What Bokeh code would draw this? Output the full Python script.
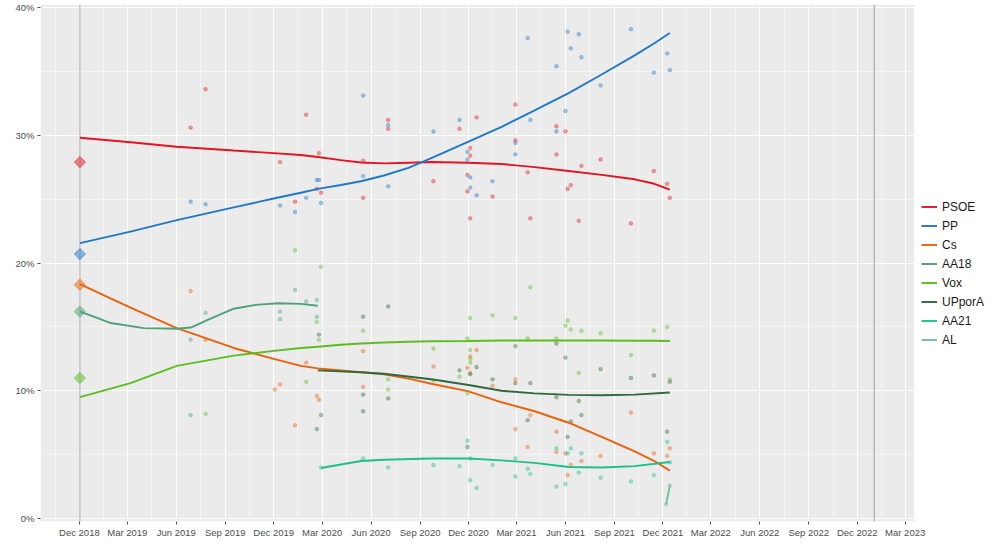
import math
import pandas as pd
from bokeh.plotting import figure
from bokeh.models import (Range1d, FixedTicker, DatetimeTickFormatter, PrintfTickFormatter,
                          Span, Legend, LegendItem, ColumnDataSource, BoxAnnotation)
from bokeh.embed import file_html
from bokeh.resources import INLINE

FONT = "Liberation Sans"

parties = ["PSOE", "PP", "Cs", "AA18", "Vox", "UPporA", "AA21", "AL"]
party_colors = ["#E5131F", "#1F78C8", "#EB6109", "#4CA27A", "#5CBE1E", "#2E6A3C", "#1FC088", "#70C09E"]

# Election result (2 Dec 2018)
election_date = "2018-12-02"
election_parties = ["PSOE", "PP", "Cs", "AA18", "Vox"]
election_values = [27.9, 20.7, 18.3, 16.2, 11.0]
term_end_date = "2023-01-02"

x_tick_labels = ["Dec 2018", "Mar 2019", "Jun 2019", "Sep 2019", "Dec 2019", "Mar 2020",
                 "Jun 2020", "Sep 2020", "Dec 2020", "Mar 2021", "Jun 2021", "Sep 2021",
                 "Dec 2021", "Mar 2022", "Jun 2022", "Sep 2022", "Dec 2022", "Mar 2023"]
y_ticks = [0, 10, 20, 30, 40]

# ---- poll points ----
psoe_dates = ["2019-06-28", "2019-07-26", "2019-12-13", "2020-01-10", "2020-01-31", "2020-02-20",
              "2020-02-24", "2020-02-28", "2020-05-17", "2020-05-17", "2020-07-03", "2020-07-03",
              "2020-09-26", "2020-11-14", "2020-11-29", "2020-11-29", "2020-12-04", "2020-12-04",
              "2020-12-04", "2020-12-16", "2021-01-15", "2021-02-27", "2021-02-27", "2021-03-22",
              "2021-03-27", "2021-05-15", "2021-05-15", "2021-06-01", "2021-06-05", "2021-06-11",
              "2021-06-26", "2021-07-01", "2021-08-06", "2021-10-02", "2021-11-14", "2021-12-09",
              "2021-12-14"]
psoe_values = [30.6, 33.6, 27.9, 24.8, 31.6, 25.8, 28.6, 25.5, 28.0, 25.1, 31.2, 30.5,
               26.4, 30.5, 26.9, 25.6, 29.0, 28.4, 23.5, 31.4, 25.2, 32.4, 29.6, 27.1,
               23.5, 30.7, 28.5, 30.3, 25.8, 26.1, 23.3, 27.6, 28.1, 23.1, 27.2, 26.2, 25.1]

pp_dates = ["2019-06-28", "2019-07-26", "2019-12-13", "2020-01-10", "2020-01-31", "2020-02-20",
            "2020-02-24", "2020-02-28", "2020-05-17", "2020-05-17", "2020-07-03", "2020-07-03",
            "2020-09-26", "2020-11-14", "2020-11-29", "2020-11-29", "2020-12-04", "2020-12-04",
            "2020-12-16", "2021-01-15", "2021-02-27", "2021-02-27", "2021-03-22", "2021-03-27",
            "2021-05-15", "2021-05-15", "2021-06-01", "2021-06-05", "2021-06-11", "2021-06-26",
            "2021-07-01", "2021-08-06", "2021-10-02", "2021-11-14", "2021-12-09", "2021-12-14"]
pp_values = [24.8, 24.6, 24.5, 24.0, 25.1, 26.5, 26.5, 24.7, 33.1, 26.8, 30.8, 26.0,
             30.3, 31.2, 28.7, 28.1, 26.7, 25.9, 25.3, 26.4, 29.4, 28.5, 37.6, 31.2,
             35.4, 30.3, 31.9, 38.1, 36.8, 37.9, 36.1, 33.9, 38.3, 34.9, 36.4, 35.1]

cs_dates = ["2019-06-28", "2019-07-26", "2019-12-03", "2019-12-13", "2020-01-10", "2020-01-31",
            "2020-02-20", "2020-02-24", "2020-05-17", "2020-05-17", "2020-09-26", "2020-11-29",
            "2020-12-04", "2020-12-04", "2020-12-16", "2021-01-15", "2021-02-27", "2021-02-27",
            "2021-03-22", "2021-03-27", "2021-05-15", "2021-05-15", "2021-06-01", "2021-06-05",
            "2021-06-11", "2021-07-01", "2021-08-06", "2021-10-02", "2021-11-14", "2021-12-09",
            "2021-12-14"]
cs_values = [17.8, 14.0, 10.1, 10.5, 7.3, 12.2, 9.6, 9.3, 13.1, 10.3, 11.9, 11.8,
             12.7, 11.4, 13.2, 10.4, 10.9, 7.0, 5.6, 8.1, 6.8, 5.2, 5.1, 3.4,
             4.2, 4.5, 4.9, 8.3, 5.1, 4.9, 5.5]

aa18_dates = ["2019-06-28", "2019-06-28", "2019-07-26", "2019-12-13", "2019-12-13", "2020-01-10",
              "2020-01-31", "2020-02-20", "2020-02-20"]
aa18_values = [14.0, 8.1, 16.1, 16.2, 15.6, 17.9, 17.0, 17.1, 15.8]

vox_dates = ["2019-07-26", "2020-01-10", "2020-01-31", "2020-02-20", "2020-02-24", "2020-02-28",
             "2020-05-17", "2020-07-03", "2020-07-03", "2020-09-26", "2020-09-26", "2020-11-14",
             "2020-11-29", "2020-11-29", "2020-12-04", "2020-12-04", "2020-12-04", "2020-12-04",
             "2021-01-15", "2021-02-27", "2021-03-22", "2021-03-27", "2021-05-15", "2021-06-01",
             "2021-06-05", "2021-06-11", "2021-06-26", "2021-07-01", "2021-08-06", "2021-10-02",
             "2021-11-14", "2021-12-09", "2021-12-14"]
vox_values = [8.2, 21.0, 10.7, 15.4, 14.0, 19.7, 14.7, 10.9, 10.1, 13.3, 10.8, 11.1,
              14.1, 9.8, 15.7, 13.2, 12.5, 12.2, 15.9, 15.7, 14.1, 18.1, 14.1, 15.1,
              15.5, 14.8, 11.4, 14.7, 14.5, 12.8, 14.7, 15.0, 10.9]

upa_dates = ["2020-02-20", "2020-02-24", "2020-02-28", "2020-05-17", "2020-05-17", "2020-05-17",
             "2020-07-03", "2020-07-03", "2020-11-14", "2020-11-29", "2020-12-04", "2020-12-16",
             "2021-01-15", "2021-02-27", "2021-02-27", "2021-03-22", "2021-03-27", "2021-05-15",
             "2021-05-15", "2021-06-01", "2021-06-05", "2021-06-11", "2021-06-26", "2021-07-01",
             "2021-08-06", "2021-10-02", "2021-11-14", "2021-12-09", "2021-12-14"]
upa_values = [7.0, 14.4, 8.1, 15.8, 9.7, 8.4, 16.6, 9.4, 11.6, 5.6, 11.3, 11.85,
              10.9, 10.6, 13.5, 7.7, 10.6, 13.7, 9.5, 12.6, 6.4, 7.6, 9.2, 8.1,
              11.7, 11.0, 11.2, 6.8, 10.7]

aa21_dates = ["2020-02-28", "2020-05-17", "2020-07-03", "2020-09-26", "2020-11-14", "2020-11-29",
              "2020-12-04", "2020-12-04", "2020-12-16", "2021-01-15", "2021-02-27", "2021-02-27",
              "2021-03-22", "2021-03-27", "2021-05-15", "2021-05-15", "2021-06-01", "2021-06-05",
              "2021-06-11", "2021-06-26", "2021-07-01", "2021-08-06", "2021-10-02", "2021-11-14",
              "2021-12-09", "2021-12-14"]
aa21_values = [4.0, 4.7, 4.0, 4.2, 4.1, 6.1, 4.7, 3.0, 2.4, 4.2, 4.7, 3.3,
               3.9, 3.5, 2.5, 5.5, 2.7, 5.1, 5.5, 3.6, 5.1, 3.2, 2.9, 3.4,
               6.0, 4.4]

al_dates = ["2021-12-07", "2021-12-14"]
al_values = [1.1, 2.6]

# ---- smoothed trends ----
trend_dates = ["2018-12-02", "2019-03-07", "2019-06-02", "2019-09-17", "2019-12-01", "2020-01-21",
               "2020-02-22", "2020-04-05", "2020-05-13", "2020-06-25", "2020-08-10", "2020-09-22",
               "2020-12-01", "2021-02-01", "2021-04-04", "2021-06-07", "2021-08-08", "2021-10-09",
               "2021-11-15", "2021-12-14"]
psoe_trend = [29.8, 29.45, 29.1, 28.8, 28.6, 28.45, 28.3, 28.05, 27.87, 27.8, 27.85, 27.9,
              27.85, 27.75, 27.5, 27.2, 26.9, 26.55, 26.2, 25.75]
pp_trend = [21.55, 22.45, 23.35, 24.35, 25.05, 25.5, 25.8, 26.1, 26.4, 26.85, 27.45, 28.2,
            29.5, 30.65, 31.95, 33.3, 34.75, 36.25, 37.2, 38.0]
cs_trend = [18.35, 16.5, 14.9, 13.35, 12.5, 11.95, 11.75, 11.6, 11.45, 11.28, 10.95, 10.55,
            9.95, 9.1, 8.4, 7.5, 6.4, 5.25, 4.5, 3.75]
vox_trend = [9.5, 10.6, 11.95, 12.75, 13.12, 13.35, 13.45, 13.6, 13.7, 13.78, 13.84, 13.88,
             13.9, 13.93, 13.93, 13.93, 13.93, 13.92, 13.91, 13.9]

aa18_trend_dates = ["2018-12-02", "2019-01-01", "2019-01-29", "2019-04-01", "2019-06-02", "2019-06-28",
                    "2019-07-12", "2019-07-30", "2019-09-17", "2019-10-28", "2019-12-09", "2020-01-21",
                    "2020-02-22"]
aa18_trend = [16.2, 15.75, 15.3, 14.9, 14.85, 14.95, 15.2, 15.55, 16.42, 16.72, 16.85, 16.8, 16.65]

upa_trend_dates = ["2020-02-22", "2020-05-13", "2020-06-25", "2020-09-22", "2020-12-01", "2021-02-01",
                   "2021-04-04", "2021-06-07", "2021-08-08", "2021-10-09", "2021-12-14"]
upa_trend = [11.6, 11.45, 11.33, 10.9, 10.45, 10.0, 9.8, 9.68, 9.65, 9.7, 9.87]

aa21_trend_dates = ["2020-02-28", "2020-05-13", "2020-06-25", "2020-09-22", "2020-12-01", "2021-02-01",
                    "2021-04-04", "2021-06-07", "2021-08-08", "2021-10-09", "2021-12-14"]
aa21_trend = [3.96, 4.5, 4.6, 4.7, 4.7, 4.55, 4.36, 4.04, 4.0, 4.1, 4.43]

al_trend_dates = ["2021-12-07", "2021-12-14"]
al_trend = [1.1, 2.6]

series = [
    ("PSOE", psoe_dates, psoe_values, trend_dates, psoe_trend),
    ("PP", pp_dates, pp_values, trend_dates, pp_trend),
    ("Cs", cs_dates, cs_values, trend_dates, cs_trend),
    ("AA18", aa18_dates, aa18_values, aa18_trend_dates, aa18_trend),
    ("Vox", vox_dates, vox_values, trend_dates, vox_trend),
    ("UPporA", upa_dates, upa_values, upa_trend_dates, upa_trend),
    ("AA21", aa21_dates, aa21_values, aa21_trend_dates, aa21_trend),
    ("AL", al_dates, al_values, al_trend_dates, al_trend),
]
color_of = dict(zip(parties, party_colors))


def ms(d):
    return pd.Timestamp(d).value // 10**6


PANEL_START, PANEL_END, VIEW_END = "2018-09-19", "2023-03-18", "2023-07-28"

p = figure(width=984, height=540, x_axis_type="datetime",
           x_range=Range1d(pd.Timestamp(PANEL_START), pd.Timestamp(VIEW_END)),
           y_range=Range1d(-0.23, 40.23),
           output_backend="svg", toolbar_location=None,
           min_border_left=40, min_border_right=0, min_border_top=4, min_border_bottom=15)
p.background_fill_color = "white"
p.border_fill_color = "white"
p.outline_line_color = None

# grey panel (plot area) behind the grid
p.add_layout(BoxAnnotation(right=ms(PANEL_END), fill_color="#EBEBEB", fill_alpha=1.0,
                           line_color=None, level="image"))

# ticks
tick_ts = pd.to_datetime(x_tick_labels, format="%b %Y")
tick_ms = [t.value // 10**6 for t in tick_ts]
half = (tick_ms[1] - tick_ms[0]) // 2
minor_ms = [tick_ms[0] - half] + [(a + b) // 2 for a, b in zip(tick_ms[:-1], tick_ms[1:])] + [tick_ms[-1] + half]
p.xaxis.ticker = FixedTicker(ticks=tick_ms, minor_ticks=minor_ms)
p.xaxis.formatter = DatetimeTickFormatter(days="%b %Y", months="%b %Y", years="%b %Y")
p.yaxis.ticker = FixedTicker(ticks=y_ticks, minor_ticks=[t + 5 for t in y_ticks[:-1]])
p.yaxis.formatter = PrintfTickFormatter(format="%d%%")

for ax in (p.xaxis, p.yaxis):
    ax.axis_line_color = None
    ax.major_tick_line_color = "#555555"
    ax.major_tick_out = 3
    ax.major_tick_in = 0
    ax.minor_tick_line_color = None
    ax.major_label_text_color = "#4D4D4D"
    ax.major_label_text_font = FONT
    ax.major_label_text_font_size = "9.5px"
    ax.major_label_standoff = 2
p.xaxis.major_label_standoff = 1

for g in (p.xgrid, p.ygrid):
    g.grid_line_color = "white"
    g.grid_line_width = 1.1
    g.minor_grid_line_color = "white"
    g.minor_grid_line_width = 0.6
    g.minor_grid_line_alpha = 0.8

# election / end of term lines
p.add_layout(Span(location=ms(election_date), dimension="height", line_color="#C4C4C4",
                  line_width=1.5, level="underlay"))
p.add_layout(Span(location=ms(term_end_date), dimension="height", line_color="#B0B0B0",
                  line_width=1.3, level="underlay"))

# poll points
for name, d, v, td, tv in series:
    src = ColumnDataSource(dict(x=pd.to_datetime(d), y=v))
    p.scatter("x", "y", source=src, size=3.8, color=color_of[name], alpha=0.4, line_alpha=0.25)

# election results diamonds
el_src = ColumnDataSource(dict(x=pd.to_datetime([election_date] * len(election_parties)),
                               y=election_values,
                               c=[color_of[n] for n in election_parties]))
p.scatter("x", "y", source=el_src, marker="square", angle=math.pi / 4, size=8,
          color="c", alpha=0.5)

# trend lines
items = []
for name, d, v, td, tv in series:
    r = p.line(pd.to_datetime(td), tv, line_color=color_of[name], line_width=1.9)
    items.append(LegendItem(label=name, renderers=[r]))

legend = Legend(items=items, location=(881, 172), orientation="vertical",
                glyph_width=16, glyph_height=19, label_height=19, spacing=0, padding=2,
                label_standoff=5, label_text_font=FONT, label_text_font_size="12px",
                label_text_color="#1A1A1A", background_fill_color="#F4F4F4",
                background_fill_alpha=0.0, border_line_color=None, margin=0)
p.add_layout(legend, "center")

open("out.html", "w").write(file_html(p, INLINE))
